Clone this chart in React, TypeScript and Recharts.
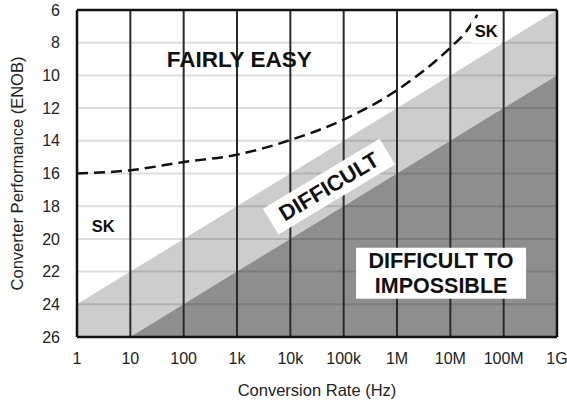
import React from 'react';
import { ComposedChart, Area, Line, XAxis, YAxis, ReferenceLine, ReferenceDot, Label } from 'recharts';

// conversion rate (Hz) at each decade, and how the axis prints them
const rates = [1, 1e1, 1e2, 1e3, 1e4, 1e5, 1e6, 1e7, 1e8, 1e9];
const rateLabels = ['1', '10', '100', '1k', '10k', '100k', '1M', '10M', '100M', '1G'];
const enobTicks = [6, 8, 10, 12, 14, 16, 18, 20, 22, 24, 26];

// upper edge of the "difficult" band and of the "impossible" zone (ENOB)
const difficultEdge = [24, 22, 20, 18, 16, 14, 12, 10, 8, 6];
const impossibleEdge = [null, 26, 24, 22, 20, 18, 16, 14, 12, 10];

// state of the art (dashed curve)
const sotaRates = [1, 1e1, 1e2, 1e3, 1e4, 1e5, 1e6, 1e7, 2e7, 3.2e7];
const sotaEnob = [16, 15.8, 15.3, 14.85, 13.95, 12.7, 10.9, 8.3, 7.3, 6.3];

// text notes placed in data coordinates
const notes = [
  { rate: 1.1e3, enob: 9, lines: ['FAIRLY EASY'], size: 22.5, angle: 0, box: null },
  { rate: 3.1, enob: 19.2, lines: ['SK'], size: 16.5, angle: 0, box: null },
  { rate: 4.7e7, enob: 7.3, lines: ['SK'], size: 16.5, angle: 0, box: [30, 24] },
  { rate: 5.3e4, enob: 16.8, lines: ['DIFFICULT'], size: 22, angle: -31, box: [136, 30] },
  { rate: 6.7e6, enob: 22.1, lines: ['DIFFICULT TO', 'IMPOSSIBLE'], size: 21.5, angle: 0, box: [170, 51] },
];

const zoneData = rates.map((r, i) => ({ rate: r, difficult: difficultEdge[i], impossible: impossibleEdge[i] }));
const sotaData = sotaRates.map((r, i) => ({ rate: r, enob: sotaEnob[i] }));

const FONT = '"Liberation Sans", Arial, Helvetica, sans-serif';

const noteContent = (note: any) => (props: any) => {
  const vb = props.viewBox || {};
  const cx = vb.x + (vb.width || 0) / 2;
  const cy = vb.y + (vb.height || 0) / 2;
  const lh = note.size * 1.15;
  return (
    <g transform={`rotate(${note.angle} ${cx} ${cy})`}>
      {note.box && (
        <rect x={cx - note.box[0] / 2} y={cy - note.box[1] / 2} width={note.box[0]} height={note.box[1]} fill="#fff" />
      )}
      {note.lines.map((t: string, i: number) => (
        <text
          key={t}
          x={cx}
          y={cy + (i - (note.lines.length - 1) / 2) * lh}
          textAnchor="middle"
          dominantBaseline="central"
          fontFamily={FONT}
          fontWeight="bold"
          fontSize={note.size}
          fill="#111"
        >
          {t}
        </text>
      ))}
    </g>
  );
};

const App: React.FC = () => {
  return (
    <div style={{ width: 567, height: 405, background: '#fff' }}>
      <style>{`body { margin: 0; }`}</style>
      <ComposedChart width={567} height={405} data={zoneData} margin={{ top: 10, right: 10, bottom: 0, left: 0 }}>
        <XAxis
          dataKey="rate"
          type="number"
          scale="log"
          domain={[1, 1e9]}
          ticks={rates}
          interval={0}
          tickFormatter={(_v: any, i: number) => rateLabels[i]}
          tickLine={false}
          axisLine={false}
          tickMargin={10}
          height={68}
          tick={{ fill: '#222', fontSize: 16, fontFamily: FONT }}
        >
          <Label value="Conversion Rate (Hz)" position="insideBottom" offset={9} fill="#222" fontSize={16.5} fontFamily={FONT} />
        </XAxis>
        <YAxis
          type="number"
          domain={[6, 26]}
          reversed
          allowDataOverflow
          ticks={enobTicks}
          interval={0}
          tickLine={false}
          axisLine={false}
          tickMargin={11}
          width={77}
          tick={{ fill: '#222', fontSize: 16, fontFamily: FONT }}
        >
          <Label value="Converter Performance (ENOB)" position="center" angle={-90} dx={-21} fill="#222" fontSize={16.5} fontFamily={FONT} />
        </YAxis>

        <Area dataKey="difficult" type="linear" baseValue={26} fill="#cdcdcd" fillOpacity={1} stroke="none" isAnimationActive={false} />
        <Area dataKey="impossible" type="linear" baseValue={26} fill="#8e8e8e" fillOpacity={1} stroke="none" isAnimationActive={false} />

        {enobTicks.map((v) => (
          <ReferenceLine key={`h${v}`} y={v} stroke="rgba(0,0,0,0.13)" strokeWidth={2} />
        ))}
        {rates.map((r) => (
          <ReferenceLine key={`v${r}`} x={r} stroke="#2a2a2a" strokeWidth={2} />
        ))}
        <ReferenceLine y={6} stroke="#111" strokeWidth={2.5} />
        <ReferenceLine y={26} stroke="#111" strokeWidth={2.5} />
        <ReferenceLine x={1} stroke="#111" strokeWidth={2.5} />
        <ReferenceLine x={1e9} stroke="#111" strokeWidth={2.5} />

        <Line
          data={sotaData}
          dataKey="enob"
          type="monotone"
          stroke="#111"
          strokeWidth={2.5}
          strokeDasharray="11 6"
          dot={false}
          isAnimationActive={false}
        />

        {notes.map((n, i) => (
          <ReferenceDot key={i} x={n.rate} y={n.enob} r={1} fill="none" stroke="none" label={{ content: noteContent(n) }} />
        ))}
      </ComposedChart>
    </div>
  );
};

export default App;
